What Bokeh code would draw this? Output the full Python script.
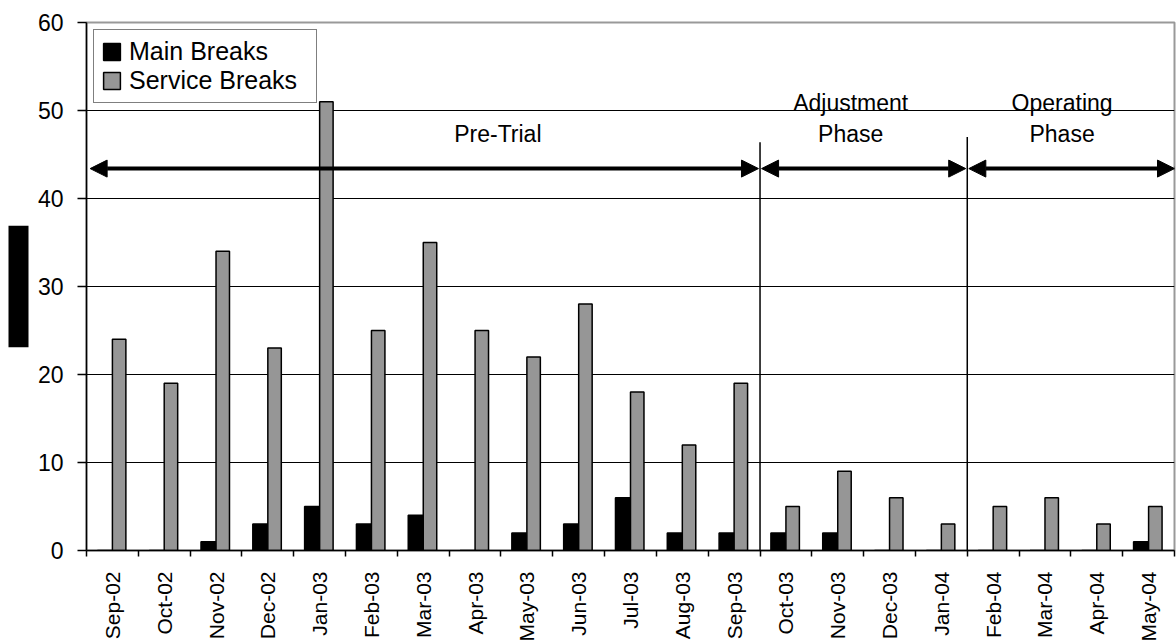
import math
from bokeh.plotting import figure
from bokeh.layouts import row
from bokeh.models import (ColumnDataSource, Range1d, FixedTicker, Arrow, NormalHead)
from bokeh.transform import dodge
from bokeh.core.properties import value
from bokeh.embed import file_html
from bokeh.resources import INLINE

# ---- data ----
months = ["Sep-02", "Oct-02", "Nov-02", "Dec-02", "Jan-03", "Feb-03", "Mar-03",
          "Apr-03", "May-03", "Jun-03", "Jul-03", "Aug-03", "Sep-03", "Oct-03",
          "Nov-03", "Dec-03", "Jan-04", "Feb-04", "Mar-04", "Apr-04", "May-04"]
main_breaks = [0, 0, 1, 3, 5, 3, 4, 0, 2, 3, 6, 2, 2, 2, 2, 0, 0, 0, 0, 0, 1]
service_breaks = [24, 19, 34, 23, 51, 25, 35, 25, 22, 28, 18, 12, 19, 5, 9, 6, 3, 5, 6, 3, 5]
y_ticks = [0, 10, 20, 30, 40, 50, 60]
phase_start = [0, 13, 17]      # month index where each phase begins
phase_end = [13, 17, 21]
phase_label_text = ["Pre-Trial", "Adjustment", "Phase", "Operating", "Phase"]

FONT = "Liberation Sans"
H = 644
TOP, BOTTOM = 22, 552   # frame edges in page pixels (frames of a row are aligned)

# ---- left strip holding the (redacted) axis-title block ----
strip = figure(width=30, height=H, x_range=Range1d(0, 30), y_range=Range1d(BOTTOM, TOP),
               output_backend="svg", toolbar_location=None,
               min_border=0, min_border_left=0, min_border_right=0,
               min_border_top=TOP, min_border_bottom=H - BOTTOM)
strip.axis.visible = False
strip.grid.visible = False
strip.outline_line_color = None
strip.background_fill_color = "white"
strip.border_fill_color = "white"
strip.quad(left=[8], right=[28], top=[226], bottom=[348], fill_color="black", line_color=None)

# ---- main chart ----
src = ColumnDataSource(dict(
    xc=[i + 0.5 for i in range(len(months))],
    main=main_breaks,
    service=service_breaks,
))

p = figure(width=1146, height=H, x_range=Range1d(0, len(months)), y_range=Range1d(0, 60),
           output_backend="svg", toolbar_location=None,
           min_border_left=56, min_border_right=2, min_border_top=TOP, min_border_bottom=H - BOTTOM)
p.background_fill_color = "white"
p.border_fill_color = "white"
p.outline_line_color = "#999999"
p.outline_line_width = 2

p.vbar(x=dodge("xc", -0.145, range=p.x_range), top="main", width=0.29, source=src,
       fill_color="#000000", line_color="#000000", line_width=1.5, legend_label="Main Breaks")
p.vbar(x=dodge("xc", 0.13, range=p.x_range), top="service", width=0.26, source=src,
       fill_color="#969696", line_color="#000000", line_width=1.5, legend_label="Service Breaks")

# phase separators
p.segment(x0=[phase_start[1], phase_start[2]], x1=[phase_start[1], phase_start[2]],
          y0=[0, 0], y1=[46.4, 47.0], line_color="black", line_width=1.5)

# phase arrows
arrow_y = 43.4
pad = [0.07, 0.03, 0.03]
pad_end = [0.03, 0.03, 0.0]
for s, e, a, b in zip(phase_start, phase_end, pad, pad_end):
    p.add_layout(Arrow(x_start=s + a, x_end=e - b, y_start=arrow_y, y_end=arrow_y,
                       line_width=4, line_color="black",
                       start=NormalHead(size=17, fill_color="black", line_color="black", line_width=1),
                       end=NormalHead(size=17, fill_color="black", line_color="black", line_width=1)))

# phase labels
p.text(x=[7.94, 14.75, 14.75, 18.83, 18.83], y=[47.3, 50.9, 47.3, 50.9, 47.3],
       text=phase_label_text, text_font=value(FONT), text_font_size="23px",
       text_align="center", text_baseline="middle", text_color="black")

# axes
p.xaxis.ticker = FixedTicker(ticks=[i + 0.5 for i in range(len(months))],
                             minor_ticks=list(range(len(months) + 1)))
p.xaxis.major_label_overrides = {i + 0.5: m for i, m in enumerate(months)}
p.xaxis.major_label_orientation = math.pi / 2
p.xaxis.major_tick_out = 0
p.xaxis.major_tick_in = 0
p.xaxis.minor_tick_out = 6
p.xaxis.minor_tick_in = 0
p.xaxis.minor_tick_line_color = "black"
p.xaxis.minor_tick_line_width = 1.5
p.xaxis.major_label_standoff = 15
p.xaxis.major_label_text_font = FONT
p.xaxis.major_label_text_font_size = "21px"
p.xaxis.major_label_text_color = "black"
p.xaxis.axis_line_color = "black"
p.xaxis.axis_line_width = 1.5

p.yaxis.ticker = FixedTicker(ticks=y_ticks, minor_ticks=[])
p.yaxis.major_tick_out = 9
p.yaxis.major_tick_in = 0
p.yaxis.major_tick_line_color = "black"
p.yaxis.major_tick_line_width = 1.5
p.yaxis.minor_tick_line_color = None
p.yaxis.major_label_standoff = 14
p.yaxis.major_label_text_font = FONT
p.yaxis.major_label_text_font_size = "23px"
p.yaxis.major_label_text_color = "black"
p.yaxis.axis_line_color = "black"
p.yaxis.axis_line_width = 1.5

p.xgrid.visible = False
p.ygrid.ticker = FixedTicker(ticks=y_ticks[1:-1])
p.ygrid.grid_line_color = "black"
p.ygrid.grid_line_width = 1

# legend
lg = p.legend[0]
lg.location = "top_left"
lg.margin = 7
lg.padding = 7
lg.spacing = 0
lg.glyph_width = 21
lg.glyph_height = 21
lg.label_height = 28
lg.label_width = 180
lg.label_standoff = 7
lg.label_text_font = FONT
lg.label_text_font_size = "25px"
lg.label_text_color = "black"
lg.border_line_color = "black"
lg.border_line_width = 1.5
lg.background_fill_color = "white"
lg.background_fill_alpha = 1

layout = row(strip, p, spacing=0)
open("out.html", "w").write(file_html(layout, INLINE))
